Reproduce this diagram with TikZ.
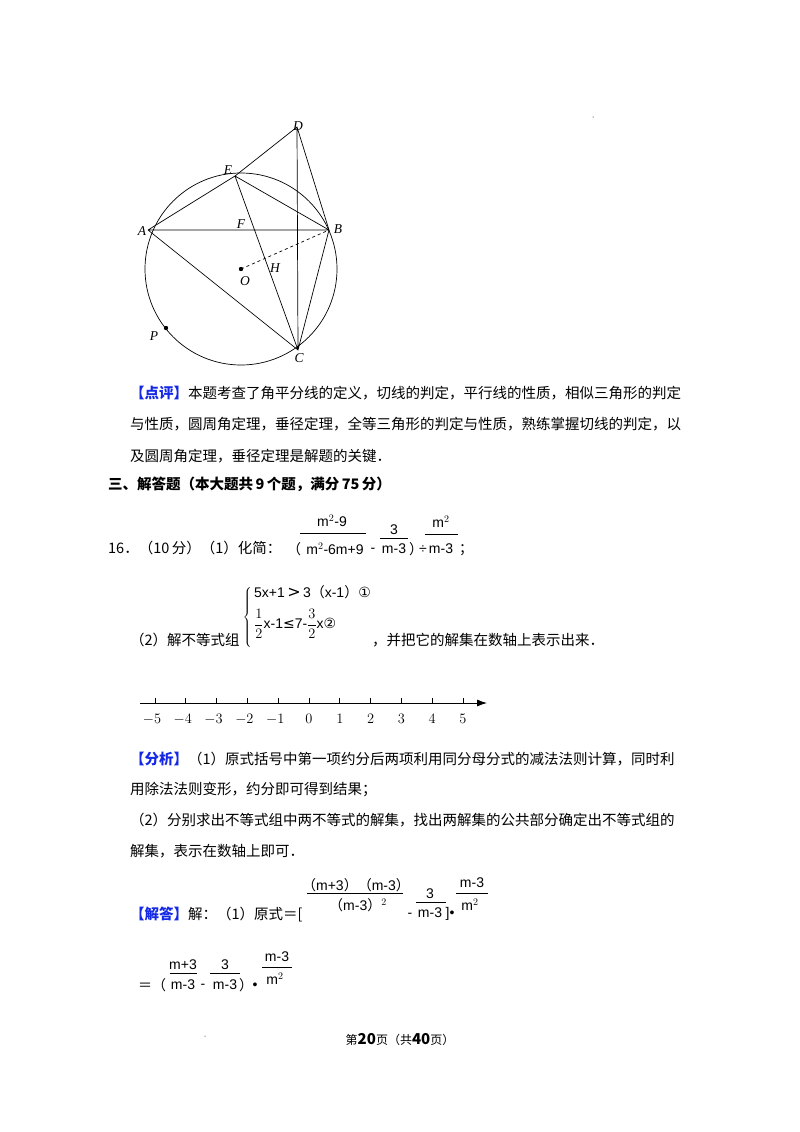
\documentclass[tikz,border=0pt]{standalone}
\usepackage{fontspec}
\usetikzlibrary{arrows.meta}
\setmainfont{Liberation Serif}
\newfontfamily\cjk{Noto Sans CJK SC}
\newfontfamily\fm{Liberation Sans}
\newfontfamily\djv{DejaVu Sans}
\newcommand\fp[1]{{\cjk #1}}
\definecolor{tagblue}{RGB}{20,40,230}
\begin{document}
\begin{tikzpicture}[x=1pt,y=-1pt,
  txt/.style={anchor=west,inner sep=0pt,font=\cjk\fontsize{14.5}{16}\selectfont},
  bt/.style={anchor=west,inner sep=0pt,font=\cjk\bfseries\fontsize{14.5}{16}\selectfont},
  lab/.style={inner sep=0pt,font=\itshape\fontsize{13.5}{15}\selectfont},
  fr/.style={inner sep=0pt,font=\fm\fontsize{14}{15}\selectfont},
  num/.style={inner sep=0pt,font=\fontsize{14}{15}\selectfont},
  geo/.style={line width=0.7pt}]
\useasboundingbox (0,0) rectangle (800,1132);
\fill (593,117) circle (0.5);
\fill (205,1036) circle (0.5);
% geometry
\coordinate (O) at (241,269);
\coordinate (A) at (148,230);
\coordinate (B) at (329,230);
\coordinate (C) at (298,350);
\coordinate (D) at (297,127);
\coordinate (E) at (235,176);
\coordinate (P) at (166,328);
\draw[geo] (O) circle (96);
\draw[geo] (A)--(B) (A)--(E)--(B)--(D)--(E) (E)--(C) (D)--(C) (A)--(C)--(B);
\draw[geo,dashed] (O)--(B);
\fill (O) circle (2.2); \fill (P) circle (2.2);
\node[lab] (lA) at (142,231) {A};
\node[lab] (lB) at (338,229) {B};
\node[lab] (lC) at (299,358) {C};
\node[lab] (lD) at (298,126) {D};
\node[lab] (lE) at (228,170) {E};
\node[lab] (lF) at (241,224) {F};
\node[lab] (lH) at (275,268) {H};
\node[lab] (lO) at (245,281) {O};
\node[lab] (lP) at (154,336) {P};
% comment
\node[txt] (t1) at (130,393) {{\color{tagblue}\bfseries【点评】}本题考查了角平分线的定义，切线的判定，平行线的性质，相似三角形的判定};
\node[txt] (t2) at (130,424) {与性质，圆周角定理，垂径定理，全等三角形的判定与性质，熟练掌握切线的判定，以};
\node[txt] (t3) at (130,456) {及圆周角定理，垂径定理是解题的关键．};
\node[bt] (t4) at (108,484) {三、解答题（本大题共\,9\,个题，满分\,75\,分）};
% 16
\node[txt] (q16) at (108,548) {16．（10\,分）（1）化简：};
\node[fr] (p1) at (294,549) {\fp{（}};
\node[fr] (n1) at (332,521) {m$^{2}$-9};
\draw (300,533)--(366,533);
\node[fr] (d1) at (335,549) {m$^{2}$-6m+9};
\node[fr] (mi1) at (373,550) {-};
\node[fr] (n2) at (394,530) {3};
\draw (380,538)--(408,538);
\node[fr] (d2) at (394,549) {m-3};
\node[fr] (p2) at (416,549) {\fp{）}};
\node[fr] (dv) at (423,550) {÷};
\node[fr] (n3) at (441,522) {m$^{2}$};
\draw (425,534)--(458,534);
\node[fr] (d3) at (441,549) {m-3};
\node[fr] (sc) at (466,550) {\fp{；}};
% system
\node[inner sep=0pt,font=\fontsize{14}{14}\selectfont] (br) at (248,617) {$\left\{\vphantom{\rule{0pt}{34pt}}\right.$};
\node[fr,anchor=west] (s1) at (254,592) {5x+1\,{\djv\fontsize{16}{16}\selectfont >}\,3\fp{（}x-1\fp{）}{\djv①}};
\node[fr,anchor=west] (s2) at (254,624) {$\displaystyle\frac{1}{2}$x-1{\djv ≤}7-$\displaystyle\frac{3}{2}$x{\djv②}};
\node[txt] (q2) at (130,640) {（2）解不等式组};
\node[txt] (q2b) at (372,640) {，并把它的解集在数轴上表示出来．};
% number line
\draw[line width=0.8pt,-{Latex[length=10pt,width=7pt]}] (140,703)--(487,703);
\foreach \k [count=\i from 0] in {-5,-4,-3,-2,-1,0,1,2,3,4,5}{
  \draw[line width=0.7pt] ({155+30.8*\i},703)--({155+30.8*\i},698);
  \node[num] (nl\i) at ({155+30.8*\i-(\k<0?3:0)},719) {$\k$};
}
% analysis
\node[txt] (a1) at (130,759) {{\color{tagblue}\bfseries【分析】}（1）原式括号中第一项约分后两项利用同分母分式的减法法则计算，同时利};
\node[txt] (a2) at (130,790) {用除法法则变形，约分即可得到结果；};
\node[txt] (a3) at (130,820) {（2）分别求出不等式组中两不等式的解集，找出两解集的公共部分确定出不等式组的};
\node[txt] (a4) at (130,851) {解集，表示在数轴上即可．};
% answer
\node[txt] (s0) at (130,914) {{\color{tagblue}\bfseries【解答】}解：（1）原式＝[};
\node[fr] (an1) at (356,885) {\fp{（}m+3\fp{）（}m-3\fp{）}};
\draw (307,893)--(403,893);
\node[fr] (ad1) at (358,905) {\fp{（}m-3\fp{）}$^{2}$};
\node[fr] (am) at (410,915) {-};
\node[fr] (an2) at (430,894) {3};
\draw (416,902)--(446,902);
\node[fr] (ad2) at (430,913) {m-3};
\node[fr] (ab) at (450,914) {]•};
\node[fr] (an3) at (472,883) {m-3};
\draw (456,893)--(488,893);
\node[fr] (ad3) at (470,905) {m$^{2}$};
\node[fr,anchor=west] (e0) at (138,985) {\fp{＝（}};
\node[fr] (bn1) at (183,965) {m+3};
\draw (170,973)--(197,973);
\node[fr] (bd1) at (183,985) {m-3};
\node[fr] (bm) at (203,986) {-};
\node[fr] (bn2) at (225,965) {3};
\draw (210,973)--(240,973);
\node[fr] (bd2) at (225,985) {m-3};
\node[fr] (bc) at (246,985) {\fp{）}};
\node[fr] (bdot) at (255,986) {•};
\node[fr] (bn3) at (277,957) {m-3};
\draw (262,967)--(292,967);
\node[fr] (bd3) at (275,979) {m$^{2}$};
% footer
\node[inner sep=0pt,font=\cjk\fontsize{12}{14}\selectfont] (ft) at (400,1040) {第{\bfseries\fontsize{15}{16}\selectfont 20}页（共{\bfseries\fontsize{15}{16}\selectfont 40}页）};
\end{tikzpicture}
\end{document}
